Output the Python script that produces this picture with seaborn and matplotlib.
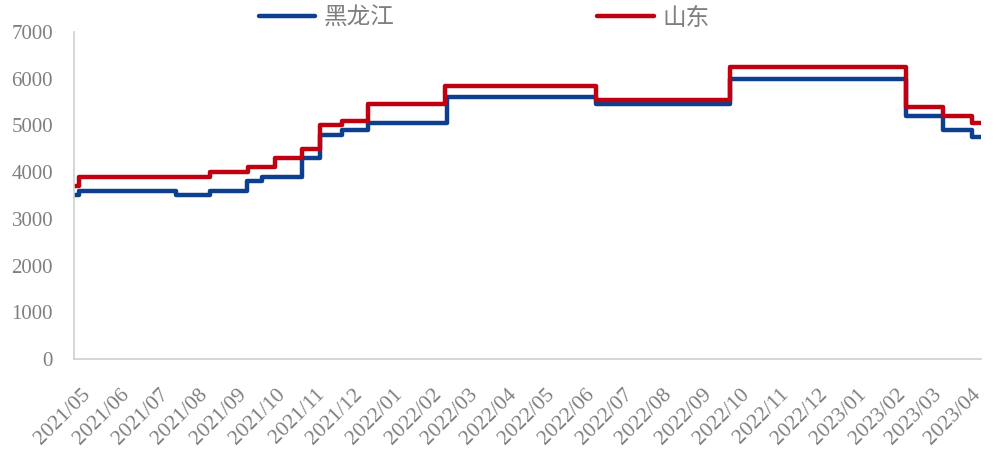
import pandas as pd
import numpy as np
import matplotlib
matplotlib.use("Agg")
import matplotlib.pyplot as plt
import matplotlib.dates as mdates
import matplotlib.transforms as mtransforms
import seaborn as sns

# price change points (step series)
hlj_dates = ["2021-05-01", "2021-05-05", "2021-07-20", "2021-08-16", "2021-09-14",
             "2021-09-26", "2021-10-27", "2021-11-10", "2021-11-28", "2021-12-18",
             "2022-02-18", "2022-06-15", "2022-09-29", "2023-02-14", "2023-03-15",
             "2023-04-07", "2023-04-14"]
hlj_vals = [3500, 3600, 3500, 3600, 3800, 3900, 4300, 4800, 4900, 5050,
            5600, 5450, 6000, 5200, 4900, 4750, 4750]

sd_dates = ["2021-05-01", "2021-05-05", "2021-08-16", "2021-09-15", "2021-10-06",
            "2021-10-27", "2021-11-10", "2021-11-28", "2021-12-18", "2022-02-17",
            "2022-06-15", "2022-09-29", "2023-02-14", "2023-03-15", "2023-04-07",
            "2023-04-14"]
sd_vals = [3700, 3900, 4000, 4100, 4300, 4500, 5000, 5100, 5450, 5850,
           5550, 6250, 5400, 5200, 5050, 5050]

series_names = ["黑龙江", "山东"]
series_colors = ["#0D3F8F", "#C00010"]

df = pd.concat([
    pd.DataFrame({"date": pd.to_datetime(hlj_dates), "price": hlj_vals, "region": series_names[0]}),
    pd.DataFrame({"date": pd.to_datetime(sd_dates), "price": sd_vals, "region": series_names[1]}),
])

sns.set_style("white")
plt.rcParams["font.family"] = ["Liberation Serif", "Noto Sans CJK SC"]

grey_txt = "#7F7F7F"
grey_ax = "#D0D0D0"

fig = plt.figure(figsize=(9.94, 4.54), dpi=100)
ax = fig.add_axes([0.0744, 0.2093, 0.9126, 0.7202])

sns.lineplot(
    data=df, x="date", y="price", hue="region",
    hue_order=series_names, palette=series_colors,
    drawstyle="steps-post", linewidth=3.2, ax=ax, legend=False,
)

ax.set_xlim(pd.Timestamp("2021-05-01"), pd.Timestamp("2023-04-14"))
ax.set_ylim(0, 7000)
ax.set_yticks(np.arange(0, 7001, 1000))
ax.xaxis.set_major_locator(mdates.MonthLocator())
ax.xaxis.set_major_formatter(mdates.DateFormatter("%Y/%m"))

for s in ["top", "right"]:
    ax.spines[s].set_visible(False)
for s in ["left", "bottom"]:
    ax.spines[s].set_color(grey_ax)
    ax.spines[s].set_linewidth(1.2)

ax.tick_params(axis="both", which="major", direction="out", length=6,
               width=1.2, color=grey_ax, labelcolor=grey_txt, labelsize=15)
ax.tick_params(axis="y", pad=9)
ax.tick_params(axis="x", pad=13, labelsize=15.5)
shift = mtransforms.ScaledTranslation(7 / 100, 0, fig.dpi_scale_trans)
for lbl in ax.get_xticklabels():
    lbl.set_rotation(45)
    lbl.set_ha("right")
    lbl.set_rotation_mode("anchor")
    lbl.set_transform(lbl.get_transform() + shift)
ax.set_xlabel("")
ax.set_ylabel("")

handles = [plt.Line2D([], [], color=c, linewidth=3.2) for c in series_colors]
leg = fig.legend(
    handles, series_names, loc="center", bbox_to_anchor=(0.487, 0.96),
    ncol=2, frameon=False, handlelength=2.4, handletextpad=0.35,
    columnspacing=8.6, prop={"family": "Noto Sans CJK SC", "size": 17},
)
for t in leg.get_texts():
    t.set_color(grey_txt)

fig.savefig("out.png", dpi=100)
